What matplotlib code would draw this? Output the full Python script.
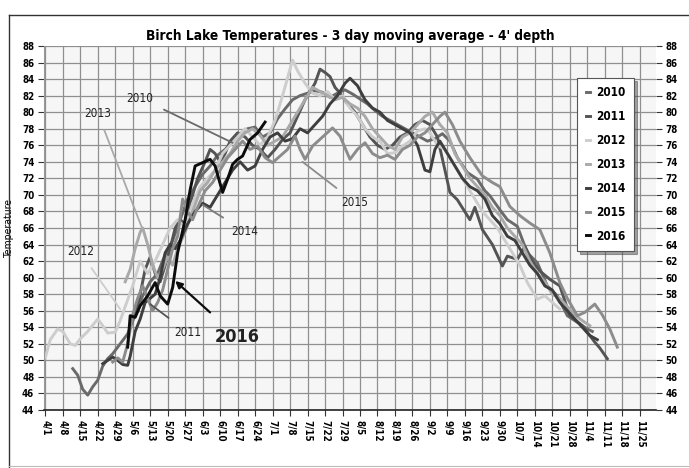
import matplotlib
matplotlib.use("Agg")
import os
import matplotlib.pyplot as plt
from matplotlib import font_manager
from matplotlib.font_manager import FontProperties
import pandas as pd

YEAR = 2016
def d(s):
    m, dd = s.split("/")
    return pd.Timestamp(year=YEAR, month=int(m), day=int(dd))

# ---- font selection: prefer a narrow/condensed face ----
_files = font_manager.findSystemFonts()
def _find(cands):
    low = {os.path.basename(f).lower(): f for f in _files}
    for c in cands:
        if c.lower() in low:
            return low[c.lower()]
    return None
_bold = _find(["LiberationSansNarrow-Bold.ttf", "DejaVuSansCondensed-Bold.ttf",
               "Roboto-Bold.ttf", "LiberationSans-Bold.ttf"])
_reg = _find(["LiberationSansNarrow-Regular.ttf", "DejaVuSansCondensed.ttf",
              "Roboto-Regular.ttf", "LiberationSans-Regular.ttf"])
def fp_bold(size):
    return FontProperties(fname=_bold, size=size) if _bold else FontProperties(family="DejaVu Sans", weight="bold", size=size)
def fp_reg(size):
    return FontProperties(fname=_reg, size=size) if _reg else FontProperties(family="DejaVu Sans", size=size)

series_names = ["2010", "2011", "2012", "2013", "2014", "2015", "2016"]
series_colors = ["#6a6a6a", "#545454", "#cdcdcd", "#a9a9a9", "#3e3e3e", "#8c8c8c", "#0c0c0c"]

dates_2010 = ["4/12","4/14","4/16","4/18","4/20","4/22","4/24","4/26","4/28","5/1","5/4","5/7","5/10","5/13","5/16","5/19","5/22","5/25","5/28","5/31","6/3","6/6","6/9","6/12","6/15","6/18","6/21","6/24","6/27","6/30","7/3","7/6","7/9","7/12","7/15","7/18","7/21","7/24","7/27","7/30","8/2","8/5","8/8","8/11","8/14","8/17","8/20","8/23","8/26","8/29","9/1","9/4","9/7","9/10","9/13","9/17","9/21","9/24","9/26","9/30","10/3","10/7","10/11","10/15","10/19","10/23","10/27","10/31","11/4","11/6"]
temps_2010 = [49.0,48.2,46.5,45.8,46.8,47.6,49.3,50.2,50.8,52.0,53.2,55.5,57.8,59.5,60.5,62.8,64.5,67.0,69.5,71.0,72.5,73.5,74.8,75.5,76.5,77.4,78.0,78.2,77.0,77.5,79.2,80.4,81.5,82.0,82.3,82.6,82.4,81.8,82.3,82.7,82.2,81.6,81.0,80.2,79.5,79.0,78.5,78.0,77.5,77.0,76.5,76.8,77.4,76.5,74.5,72.7,71.9,70.5,69.9,68.2,67.0,66.2,63.0,61.8,59.0,57.8,55.4,54.6,53.8,53.5]

dates_2011 = ["5/7","5/9","5/11","5/13","5/15","5/17","5/19","5/21","5/23","5/25","5/27","5/29","6/1","6/4","6/6","6/8","6/10","6/12","6/14","6/17","6/20","6/23","6/26","6/29","7/2","7/5","7/8","7/11","7/14","7/16","7/18","7/20","7/22","7/24","7/26","7/28","7/31","8/3","8/6","8/9","8/12","8/15","8/18","8/21","8/24","8/27","8/30","9/2","9/5","9/8","9/10","9/13","9/18","9/20","9/23","9/27","10/1","10/3","10/7","10/10","10/13","10/16","10/20","10/24","10/28","11/2","11/7","11/9","11/12"]
temps_2011 = [55.5,58.0,61.0,62.5,60.5,59.5,61.5,63.5,66.0,67.0,66.5,69.0,72.0,74.0,75.5,75.0,74.0,75.0,76.5,77.5,77.0,76.0,75.5,74.5,75.5,76.7,77.5,79.5,81.5,82.5,83.5,85.2,84.8,84.3,83.0,82.3,81.0,80.0,78.5,77.0,76.0,75.5,76.0,77.0,77.5,78.5,79.0,78.5,77.0,73.0,70.3,69.4,67.0,68.5,65.8,64.0,61.4,62.6,62.2,63.8,62.0,60.8,59.8,59.0,55.4,54.2,52.2,51.5,50.2]

dates_2012 = ["4/1","4/3","4/6","4/8","4/11","4/13","4/15","4/18","4/22","4/24","4/26","4/29","5/1","5/3","5/6","5/9","5/12","5/15","5/18","5/21","5/24","5/27","5/30","6/2","6/5","6/8","6/11","6/14","6/17","6/20","6/23","6/26","6/29","7/2","7/5","7/9","7/11","7/14","7/17","7/20","7/23","7/26","7/29","8/1","8/4","8/7","8/10","8/13","8/16","8/19","8/22","8/25","8/28","8/31","9/2","9/5","9/8","9/11","9/14","9/17","9/20","9/23","9/26","9/29","10/2","10/5","10/8","10/11","10/15","10/18","10/21","10/24"]
temps_2012 = [50.3,52.5,53.8,53.5,52.0,51.8,52.6,53.5,55.0,54.2,53.3,53.4,54.8,56.5,59.0,62.0,60.5,62.0,64.0,66.0,67.0,66.0,69.0,71.0,72.0,73.0,75.0,76.0,77.0,78.0,77.0,76.0,77.0,79.0,82.0,86.3,85.0,83.5,82.3,82.0,82.5,81.5,82.0,80.5,79.5,78.0,77.0,76.5,75.0,75.1,75.9,76.5,77.7,78.0,77.5,76.0,75.5,74.0,72.5,71.0,69.5,68.0,67.0,66.0,64.5,63.0,61.5,59.4,57.4,57.8,57.0,56.2]

dates_2013 = ["5/3","5/5","5/7","5/9","5/10","5/12","5/14","5/16","5/18","5/20","5/22","5/24","5/27","5/30","6/2","6/5","6/8","6/11","6/14","6/17","6/20","6/23","6/26","6/29","7/2","7/5","7/8","7/11","7/14","7/17","7/20","7/23","7/26","7/29","8/1","8/4","8/7","8/10","8/13","8/16","8/19","8/22","8/25","8/28","8/31","9/3","9/6","9/9","9/12","9/15","9/18","9/21","9/24","9/27","9/30","10/3","10/6","10/9","10/12","10/15","10/18","10/21","10/24","10/27","10/30","11/2","11/5"]
temps_2013 = [59.5,61.0,63.5,65.5,66.0,64.0,61.5,60.0,61.0,62.5,61.5,63.5,65.5,68.0,70.5,71.5,73.0,74.0,75.0,76.5,77.5,78.0,77.2,76.0,76.5,77.0,78.5,80.0,81.5,83.0,82.5,82.0,81.5,81.8,81.0,80.5,79.5,78.0,77.0,76.0,75.5,77.0,77.5,78.5,79.5,80.0,78.5,77.5,75.0,73.5,72.0,71.0,70.0,68.5,67.5,66.0,65.0,64.0,62.0,60.5,59.5,58.0,57.5,56.5,55.5,54.8,54.2]

dates_2014 = ["4/24","4/26","4/28","4/30","5/2","5/4","5/5","5/7","5/9","5/11","5/13","5/15","5/17","5/19","5/21","5/23","5/25","5/28","5/31","6/3","6/6","6/9","6/12","6/15","6/18","6/21","6/24","6/27","6/30","7/3","7/6","7/9","7/12","7/15","7/18","7/21","7/24","7/27","7/30","8/1","8/4","8/7","8/10","8/13","8/16","8/19","8/22","8/25","8/28","8/31","9/2","9/4","9/6","9/9","9/12","9/15","9/18","9/21","9/24","9/27","9/30","10/3","10/6","10/9","10/12","10/15","10/18","10/21","10/24","10/27","10/30","11/2","11/5","11/8"]
temps_2014 = [49.6,50.0,50.4,50.0,49.5,49.4,50.5,53.5,55.0,57.0,57.5,58.0,60.0,63.0,64.0,63.5,64.5,66.5,68.0,69.0,68.5,70.0,71.5,73.0,74.0,73.0,73.5,75.5,77.0,77.5,76.5,76.8,78.0,77.5,78.5,79.5,81.0,82.0,83.5,84.1,83.2,81.5,80.5,80.0,79.0,78.5,78.0,77.5,76.0,73.0,72.8,75.5,76.5,75.0,73.5,72.0,71.0,70.5,69.5,67.5,66.5,65.0,64.5,63.0,61.5,60.5,59.0,58.5,57.0,56.0,55.0,54.0,53.0,52.5]

dates_2015 = ["4/28","4/30","5/2","5/4","5/6","5/8","5/10","5/12","5/14","5/16","5/18","5/20","5/22","5/24","5/26","5/28","5/30","6/1","6/4","6/7","6/10","6/13","6/16","6/19","6/22","6/25","6/28","7/1","7/4","7/7","7/10","7/12","7/14","7/17","7/21","7/25","7/28","8/1","8/4","8/7","8/10","8/13","8/16","8/19","8/22","8/25","8/28","8/31","9/3","9/6","9/8","9/11","9/14","9/18","9/23","9/27","9/30","10/4","10/8","10/12","10/16","10/20","10/24","10/27","10/31","11/3","11/7","11/10","11/13","11/16"]
temps_2015 = [49.8,50.3,49.8,52.0,55.5,57.5,59.0,57.5,56.0,57.0,58.5,61.0,63.5,65.0,69.5,68.0,67.0,68.5,70.5,71.5,73.0,74.5,75.5,76.5,75.5,75.9,74.5,73.9,74.7,75.5,77.1,75.5,74.3,75.9,77.0,78.1,77.1,74.3,75.5,76.3,75.0,74.5,74.8,74.3,75.5,76.0,77.0,77.5,78.5,79.5,80.0,78.5,76.5,74.5,72.3,71.5,71.0,68.6,67.5,66.6,65.8,63.0,59.4,57.5,55.4,55.8,56.8,55.5,53.8,51.6]

dates_2016 = ["5/4","5/5","5/7","5/9","5/12","5/15","5/17","5/20","5/22","5/24","5/27","5/29","5/31","6/3","6/6","6/8","6/11","6/13","6/15","6/17","6/19","6/22","6/25","6/28"]
temps_2016 = [51.6,55.4,55.2,56.6,57.8,59.4,57.8,56.8,58.8,63.0,67.0,70.6,73.5,73.9,74.3,73.5,70.3,71.9,73.7,74.3,74.7,76.7,77.5,78.8]

series_dates = [dates_2010, dates_2011, dates_2012, dates_2013, dates_2014, dates_2015, dates_2016]
series_temps = [temps_2010, temps_2011, temps_2012, temps_2013, temps_2014, temps_2015, temps_2016]

tick_dates = ["4/1","4/8","4/15","4/22","4/29","5/6","5/13","5/20","5/27","6/3","6/10","6/17","6/24","7/1","7/8","7/15","7/22","7/29","8/5","8/12","8/19","8/26","9/2","9/9","9/16","9/23","9/30","10/7","10/14","10/21","10/28","11/4","11/11","11/18","11/25"]
y_ticks = list(range(44, 89, 2))

# annotations: label, text position (date, temp), target (date, temp), line colour, font size
annotations = [
    ("2010", ("5/9", 81.7), ("6/15", 76.3), "#6a6a6a", 8.5),
    ("2013", ("4/22", 79.9), ("5/10", 65.8), "#a9a9a9", 8.5),
    ("2012", ("4/15", 63.1), ("5/1", 56.2), "#cdcdcd", 8.5),
    ("2014", ("6/20", 65.6), ("6/3", 68.8), "#7a7a7a", 8.5),
    ("2011", ("5/28", 53.4), ("5/13", 56.8), "#545454", 8.5),
    ("2016", ("6/17", 52.8), ("5/23", 59.6), "#0c0c0c", 13),
    ("2015", ("8/3", 69.1), ("7/13", 74.0), "#8c8c8c", 8.5),
]

fig = plt.figure(figsize=(6.89, 4.68), dpi=100)
fig.patch.set_facecolor("white")
ax = fig.add_axes([44/689, 1-410/468, (656-44)/689, (410-46)/468])
ax.set_facecolor("#f6f6f6")

for name, ds, ts, c in zip(series_names, series_dates, series_temps, series_colors):
    x = [d(s) for s in ds]
    ax.plot(x, ts, color=c, lw=2.1, label=name, solid_joinstyle="round")

ax.set_ylim(44, 88)
ax.set_xlim(d("4/1") - pd.Timedelta(days=0.5), d("11/25") + pd.Timedelta(days=6.5))
ax.set_yticks(y_ticks)
ax.set_xticks([d(s) for s in tick_dates])
ax.set_xticklabels(tick_dates, rotation=-90, fontproperties=fp_bold(7))
ax.tick_params(axis="y", which="both", left=True, right=True, labelleft=True, labelright=True,
               length=4, width=0.8, color="#333333", pad=3)
for t in ax.yaxis.get_major_ticks():
    t.label2.set_fontproperties(fp_bold(7))
    t.label1.set_fontproperties(fp_bold(7))
ax.tick_params(axis="x", length=4, width=0.8, color="#333333", pad=3)
ax.grid(True, color="#8f8f8f", lw=0.9)
ax.set_axisbelow(True)
for side in ["top", "right"]:
    ax.spines[side].set_visible(False)
ax.spines["left"].set_color("#9a9a9a")
ax.spines["bottom"].set_color("#222222")
ax.spines["bottom"].set_linewidth(1.2)

ax.set_ylabel("Temperature", fontproperties=fp_reg(7.5))
ax.yaxis.set_label_coords(-0.049, 0.5)

title = ax.set_title("Birch Lake Temperatures - 3 day moving average - 4' depth",
                     fontproperties=fp_bold(13), pad=4)

for label, (tds, tt), (pds, pt), c, sz in annotations:
    big = label == "2016"
    ax.annotate(label, xy=(d(pds), pt), xytext=(d(tds), tt),
                fontproperties=fp_bold(sz) if big else fp_reg(sz),
                color="#222222", ha="center", va="center",
                arrowprops=dict(arrowstyle="-|>" if big else "-",
                                color=c, lw=1.6 if big else 1.3,
                                shrinkA=14 if big else 6, shrinkB=0,
                                mutation_scale=10))

leg = ax.legend(loc="upper left", bbox_to_anchor=(0.862, 0.928), frameon=True,
                handlelength=0.4, handletextpad=0.5, labelspacing=0.92,
                borderpad=0.7, fancybox=False, shadow=True,
                prop=fp_bold(8.5))
leg.get_frame().set_edgecolor("#555555")
leg.get_frame().set_linewidth(0.8)

# fit title to roughly the reference width
fig.canvas.draw()
r = fig.canvas.get_renderer()
w = title.get_window_extent(r).width
if w > 0:
    title.set_fontproperties(fp_bold(13 * 410.0 / w))

# outer frame
fig.add_artist(plt.Line2D([9/689, 9/689], [1/468, 1-15/468], color="#333333", lw=1.0))
fig.add_artist(plt.Line2D([9/689, 1.0], [1-15/468, 1-15/468], color="#333333", lw=1.0))
fig.add_artist(plt.Line2D([9/689, 1.0], [2/468, 2/468], color="#bbbbbb", lw=0.8))

fig.savefig("out.png", dpi=100)
